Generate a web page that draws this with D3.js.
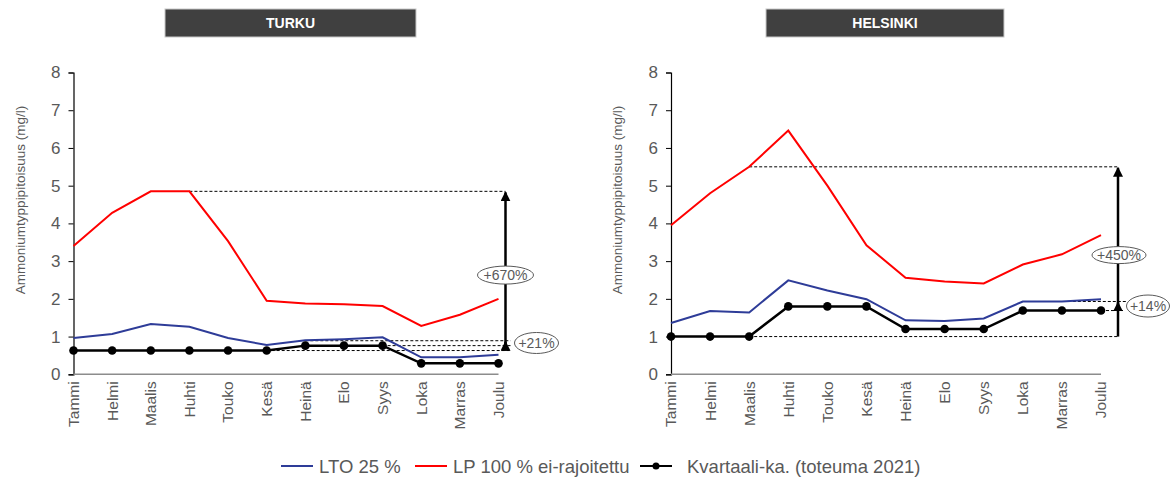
<!DOCTYPE html>
<html lang="fi">
<head>
<meta charset="UTF-8">
<title>Ammoniumtyppipitoisuus</title>
<script src="https://d3js.org/d3.v7.min.js"></script>
<style>
  body { margin: 0; background: #fff; }
  svg { font-family: "Liberation Sans", Arial, sans-serif; }
</style>
</head>
<body>
<svg id="chart" width="1171" height="480"></svg>
<script>
// data
const months = ["Tammi", "Helmi", "Maalis", "Huhti", "Touko", "Kesä", "Heinä", "Elo", "Syys", "Loka", "Marras", "Joulu"];
const yTicks = [0, 1, 2, 3, 4, 5, 6, 7, 8];

const turkuLTO = [0.96, 1.07, 1.33, 1.26, 0.96, 0.78, 0.90, 0.93, 0.98, 0.45, 0.45, 0.52];
const turkuLP = [3.40, 4.28, 4.85, 4.85, 3.53, 1.95, 1.88, 1.86, 1.81, 1.28, 1.58, 2.00];
const turkuKv = [0.63, 0.63, 0.63, 0.63, 0.63, 0.63, 0.76, 0.76, 0.76, 0.29, 0.29, 0.29];

const helsinkiLTO = [1.36, 1.68, 1.64, 2.49, 2.22, 1.99, 1.43, 1.41, 1.48, 1.93, 1.93, 1.99];
const helsinkiLP = [3.95, 4.80, 5.50, 6.46, 5.00, 3.42, 2.56, 2.46, 2.41, 2.91, 3.18, 3.69];
const helsinkiKv = [1.00, 1.00, 1.00, 1.80, 1.80, 1.80, 1.20, 1.20, 1.20, 1.69, 1.69, 1.69];

const legendItems = ["LTO 25 %", "LP 100 % ei-rajoitettu", "Kvartaali-ka. (toteuma 2021)"];

const colLTO = "#2e3c98", colLP = "#ff0000", colKv = "#000000";
const grey = "#595959";

const svg = d3.select("#chart");

const defs = svg.append("defs");
defs.append("marker")
    .attr("id", "head")
    .attr("viewBox", "0 0 10 10")
    .attr("refX", 9).attr("refY", 5)
    .attr("markerWidth", 4).attr("markerHeight", 4)
    .attr("orient", "auto")
  .append("path")
    .attr("d", "M0,0 L10,5 L0,10 z")
    .attr("fill", "#000");

const y = d3.scaleLinear().domain([0, 8]).range([374.3, 72.5]);

function drawPanel(p) {
    const x = d3.scalePoint().domain(months).range([p.x0, p.x1]);
    const g = svg.append("g");

    // title box
    g.append("rect")
        .attr("x", p.boxX).attr("y", 9)
        .attr("width", p.boxW).attr("height", 28)
        .attr("fill", "#404040").attr("stroke", "#c8c8c8").attr("stroke-width", 1);
    g.append("text")
        .attr("x", p.boxX + p.boxW / 2).attr("y", 28)
        .attr("text-anchor", "middle")
        .attr("fill", "#fff").attr("font-weight", "bold").attr("font-size", 14)
        .text(p.title);

    // y axis
    const ya = g.append("g")
        .attr("transform", `translate(${p.x0},0)`)
        .call(d3.axisLeft(y).tickValues(yTicks).tickSize(5).tickPadding(8));
    ya.select(".domain").attr("stroke", "#000").attr("stroke-width", 1.2);
    ya.selectAll(".tick line").attr("stroke", "#000");
    ya.selectAll(".tick text").attr("fill", grey).attr("font-size", 17)
        .attr("font-family", "Liberation Sans, Arial, sans-serif");

    g.append("text")
        .attr("transform", `translate(${p.titleX},200) rotate(-90)`)
        .attr("text-anchor", "middle")
        .attr("fill", grey).attr("font-size", 13.5)
        .text("Ammoniumtyppipitoisuus (mg/l)");

    // x axis line + month labels
    g.append("line")
        .attr("x1", p.x0).attr("x2", p.x1)
        .attr("y1", y(0)).attr("y2", y(0))
        .attr("stroke", "#8c8c8c").attr("stroke-width", 1.5);
    g.selectAll(".month").data(months).join("text")
        .attr("class", "month")
        .attr("transform", d => `translate(${x(d)},${y(0) + 7}) rotate(-90)`)
        .attr("dy", "0.35em")
        .attr("text-anchor", "end")
        .attr("fill", grey).attr("font-size", 15.5)
        .text(d => d);

    // annotation dashed lines
    p.dashes.forEach(d => {
        g.append("line")
            .attr("x1", x(months[d.from])).attr("x2", x(months[11]) + d.toOff)
            .attr("y1", y(d.v)).attr("y2", y(d.v))
            .attr("stroke", "#000").attr("stroke-width", 1)
            .attr("stroke-dasharray", "3,2");
    });

    const line = d3.line().x((d, i) => x(months[i])).y(d => y(d));

    g.append("path").datum(p.lp).attr("d", line)
        .attr("fill", "none").attr("stroke", colLP).attr("stroke-width", 2);
    g.append("path").datum(p.lto).attr("d", line)
        .attr("fill", "none").attr("stroke", colLTO).attr("stroke-width", 2);
    g.append("path").datum(p.kv).attr("d", line)
        .attr("fill", "none").attr("stroke", colKv).attr("stroke-width", 2.5);
    g.selectAll(".dot").data(p.kv).join("circle")
        .attr("class", "dot")
        .attr("cx", (d, i) => x(months[i])).attr("cy", d => y(d))
        .attr("r", 4.3).attr("fill", colKv);

    // arrows
    const ax = x(months[11]) + p.arrowOff;
    p.arrows.forEach(a => {
        g.append("line")
            .attr("x1", ax).attr("x2", ax)
            .attr("y1", y(a.from)).attr("y2", y(a.to) + 1)
            .attr("stroke", "#000").attr("stroke-width", 2.5)
            .attr("marker-end", "url(#head)");
    });

    // percentage bubbles
    p.bubbles.forEach(b => {
        const cx = ax + b.dx, cy = y(b.v);
        g.append("ellipse")
            .attr("cx", cx).attr("cy", cy)
            .attr("rx", b.rx).attr("ry", b.ry)
            .attr("fill", "#fff").attr("stroke", grey).attr("stroke-width", 1);
        g.append("text")
            .attr("x", cx).attr("y", cy + 5)
            .attr("text-anchor", "middle")
            .attr("fill", grey).attr("font-size", 14)
            .text(b.label);
    });
}

drawPanel({
    title: "TURKU", boxX: 165, boxW: 251,
    x0: 73.5, x1: 498.5, titleX: 25,
    lto: turkuLTO, lp: turkuLP, kv: turkuKv,
    arrowOff: 7,
    dashes: [
        { v: 4.85, from: 3, toOff: 7 },
        { v: 0.89, from: 6, toOff: 12 },
        { v: 0.76, from: 8, toOff: 12 },
        { v: 0.63, from: 5, toOff: 12 }
    ],
    arrows: [{ from: 0.63, to: 4.85 }, { from: 0.63, to: 0.89 }],
    bubbles: [
        { v: 2.63, dx: 0, rx: 28, ry: 9, label: "+670%" },
        { v: 0.83, dx: 31, rx: 22, ry: 10.5, label: "+21%" }
    ]
});

drawPanel({
    title: "HELSINKI", boxX: 766, boxW: 238,
    x0: 671, x1: 1101, titleX: 622,
    lto: helsinkiLTO, lp: helsinkiLP, kv: helsinkiKv,
    arrowOff: 17,
    dashes: [
        { v: 5.5, from: 2, toOff: 17 },
        { v: 1.0, from: 2, toOff: 17 },
        { v: 1.93, from: 9, toOff: 26 },
        { v: 1.69, from: 11, toOff: 22 }
    ],
    arrows: [{ from: 1.0, to: 5.5 }, { from: 1.69, to: 1.93 }],
    bubbles: [
        { v: 3.16, dx: 1, rx: 27, ry: 8.5, label: "+450%" },
        { v: 1.81, dx: 30, rx: 21.5, ry: 11, label: "+14%" }
    ]
});

// legend
const legend = svg.append("g").attr("transform", "translate(0,466)");
const legendCols = [colLTO, colLP, colKv];
const legendX = [281, 415, 640];
legendItems.forEach((t, i) => {
    legend.append("line")
        .attr("x1", legendX[i]).attr("x2", legendX[i] + 32)
        .attr("y1", 0).attr("y2", 0)
        .attr("stroke", legendCols[i]).attr("stroke-width", 2);
    if (i === 2) {
        legend.append("circle").attr("cx", legendX[i] + 16).attr("cy", 0)
            .attr("r", 3.5).attr("fill", colKv);
    }
    legend.append("text")
        .attr("x", legendX[i] + (i === 2 ? 47 : 38)).attr("y", 6.5)
        .attr("fill", grey).attr("font-size", 18.5)
        .text(t);
});
</script>
</body>
</html>
